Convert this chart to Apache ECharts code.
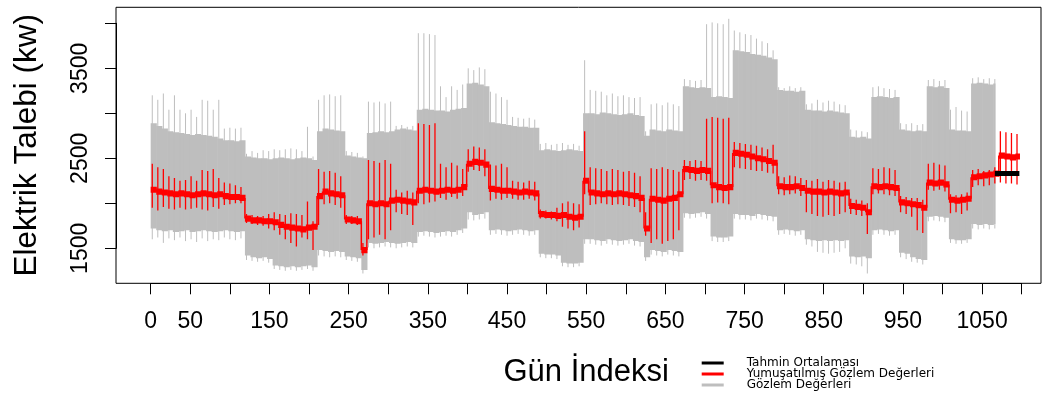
<!DOCTYPE html>
<html>
<head>
<meta charset="utf-8">
<script src="https://cdn.jsdelivr.net/npm/echarts@6/dist/echarts.min.js"></script>
<style>
html,body{margin:0;padding:0;background:#fff;}
#c{width:1046px;height:414px;}
</style>
</head>
<body>
<div id="c"></div>
<script>
// ---- data (weekly reading of the plot; week w starts at day 7*w) ----
const WEEK_DAYS = 7;
const GRAY_END = 1066;   // last observed day
const RED_END = 1097;    // last smoothed day

// Gözlem Değerleri: band bottom / band top / spike top / spike bottom per week
const grayLow = [1720,1700,1690,1700,1680,1690,1700,1680,1690,1700,1690,1680,1690,1700,1690,1680,1690,
  1420,1400,1390,1400,1380,1310,1300,1290,1300,1290,1300,1310,
  1290,
  1480,1470,1460,1470,1460,
  1410,1400,1390,
  1260,
  1560,1550,1560,1570,1560,1550,1560,1570,1560,
  1680,1690,1680,1670,1680,1690,1680,1700,1720,
  1900,1870,1880,1900,
  1700,1710,1700,1690,1700,1710,1700,1690,1700,
  1440,1430,1430,1420,1340,1330,1330,1340,
  1600,
  1600,1590,1580,1600,1590,1580,1590,1600,1580,1570,
  1400,
  1480,1470,1460,1480,1470,1460,
  1890,1880,1890,1900,1880,
  1630,1620,1620,1630,
  1880,1870,1870,1860,1880,1870,1860,1850,
  1700,1710,1700,1690,1700,
  1600,1590,1580,1590,1580,1590,1580,1590,
  1410,1400,1410,1390,
  1700,1710,1700,1690,1700,
  1450,1440,1400,1380,1370,
  1850,1860,1850,1840,
  1600,1590,1590,1600,
  1770,1760,1770,1760,1770];
const grayHigh = [2890,2860,2830,2800,2790,2780,2770,2760,2770,2760,2750,2740,2720,2700,2700,2690,2700,
  2520,2510,2500,2500,2490,2500,2510,2500,2490,2500,2510,2500,
  2480,
  2800,2830,2820,2810,2800,
  2530,2520,2510,
  2500,
  2780,2790,2800,2790,2800,2820,2830,2820,2810,
  3040,3050,3040,3030,3030,3020,3040,3050,3060,
  3330,3340,3320,3300,
  2900,2890,2880,2870,2860,2850,2850,2840,2840,
  2590,2600,2590,2580,2590,2600,2590,2580,
  3000,
  3000,2990,3010,3000,2990,2980,2990,3000,2980,2970,
  2750,
  2820,2810,2800,2820,2810,2800,
  3300,3290,3280,3290,3280,
  3180,3190,3180,3170,
  3700,3690,3680,3660,3650,3640,3620,3600,
  3260,3250,3250,3240,3250,
  3040,3030,3030,3020,3030,3020,3010,3000,
  2740,2730,2740,2720,
  3180,3190,3180,3170,3180,
  2820,2810,2800,2810,2800,
  3300,3290,3300,3280,
  2820,2810,2810,2800,
  3330,3340,3330,3320,3330];
const grayPeak = [3200,3150,3220,3040,3200,3040,3000,3040,2960,3150,3140,3040,3150,2830,2840,2830,2840,
  2550,2580,2560,2590,2580,2600,2590,2600,2610,2600,2580,2850,
  2520,
  3150,3200,3210,3190,3200,
  2580,2570,2560,
  2520,
  3130,3120,3130,3110,3130,2860,2870,2850,2860,
  3890,3890,3880,3870,3300,3180,3300,3260,3320,
  3500,3480,3510,3490,
  3240,3220,3180,3150,2960,2950,2940,2950,2930,
  2660,2670,2650,2660,2670,2650,2660,2640,
  3590,
  3260,3250,3240,3200,3220,3190,3200,3180,3170,3180,
  2800,
  3100,3110,3090,3120,3100,3080,
  3380,3370,3360,3370,3990,
  4010,4000,3990,4050,
  3920,3900,3880,3870,3830,3800,3780,3700,
  3290,3280,3300,3280,3290,
  3100,3110,3150,3120,3140,3130,3100,3090,
  2820,2810,2800,2790,
  3290,3300,3280,3270,3260,
  2890,2880,2890,2870,2880,
  3370,3380,3360,3370,
  3040,3070,3030,3020,
  3390,3400,3380,3390,3380];
const grayDip = [1600,1620,1560,1610,1590,1620,1580,1600,1570,1610,1580,1600,1590,1620,1600,1590,1610,
  1370,1360,1350,1360,1340,1270,1260,1250,1260,1250,1260,1270,
  1250,
  1420,1410,1400,1410,1400,
  1370,1360,1350,
  1220,
  1510,1500,1510,1520,1510,1500,1510,1520,1510,
  1630,1640,1630,1620,1630,1640,1630,1650,1670,
  1820,1810,1820,1830,
  1650,1660,1650,1640,1650,1660,1650,1640,1650,
  1400,1390,1390,1380,1300,1290,1290,1300,
  1550,
  1550,1540,1530,1550,1540,1530,1540,1550,1530,1520,
  1360,
  1430,1420,1410,1430,1420,1410,
  1840,1830,1840,1850,1830,
  1580,1570,1570,1580,
  1830,1820,1820,1810,1830,1820,1810,1800,
  1650,1660,1650,1640,1650,
  1540,1520,1460,1450,1440,1450,1460,1500,
  1330,1320,1300,1220,
  1650,1660,1650,1640,1650,
  1400,1380,1350,1340,1320,
  1800,1810,1800,1790,
  1560,1550,1550,1560,
  1720,1710,1720,1710,1720];

// Yumuşatılmış Gözlem Değerleri: weekly level / spike top / spike bottom
const redMid = [2150,2130,2120,2110,2100,2110,2100,2090,2100,2110,2100,2090,2100,2080,2070,2070,2060,
  1830,1810,1810,1800,1800,1790,1760,1740,1730,1720,1710,1730,
  1740,
  2080,2130,2110,2100,2090,
  1820,1810,1800,
  1480,
  2000,1990,2000,1990,2030,2040,2030,2020,2010,
  2140,2150,2140,2130,2140,2150,2140,2150,2180,
  2440,2460,2450,2430,
  2160,2150,2140,2140,2130,2120,2130,2120,2110,
  1880,1870,1870,1860,1870,1850,1840,1850,
  2250,
  2120,2110,2100,2110,2100,2110,2100,2090,2080,2060,
  1720,
  2050,2040,2030,2050,2060,2100,
  2380,2370,2360,2370,2360,
  2200,2180,2170,2180,
  2560,2550,2540,2520,2500,2490,2470,2450,
  2190,2180,2180,2190,2170,
  2140,2130,2130,2120,2130,2120,2110,2120,
  1970,1960,1950,1900,
  2190,2180,2190,2180,2170,
  2010,2000,1990,1980,1950,
  2230,2220,2230,2210,
  2040,2030,2040,2050,
  2290,2300,2310,2320,2330,
  2530,2520,2510,2520];
const redUp = [2440,2400,2380,2300,2280,2250,2260,2300,2250,2370,2360,2380,2280,2230,2220,2200,2180,
  1880,1870,1860,1860,1880,1900,1880,1870,1890,1880,1870,2020,
  1800,
  2380,2350,2360,2340,2300,
  1870,1860,1860,
  1560,
  2480,2470,2450,2480,2440,2150,2120,2140,2120,
  2890,2880,2870,2890,2440,2400,2450,2420,2380,
  2600,2630,2620,2600,
  2430,2420,2440,2400,2250,2240,2230,2250,2240,
  1930,1920,1910,1950,2000,2020,2000,1990,
  2800,
  2400,2390,2380,2360,2380,2370,2350,2360,2340,2300,
  1900,
  2390,2380,2400,2380,2370,2350,
  2480,2470,2480,2470,2940,
  2960,2950,2940,2950,
  2680,2670,2660,2650,2640,2620,2600,2650,
  2300,2290,2310,2300,2280,
  2260,2250,2270,2240,2260,2250,2230,2240,
  2050,2040,2030,2000,
  2390,2380,2400,2390,2370,
  2080,2070,2060,2060,2040,
  2440,2450,2430,2420,
  2100,2090,2100,2120,
  2370,2380,2360,2370,2400,
  2800,2790,2780,2770];
const redDown = [1950,1920,1960,1940,1930,1950,1930,1940,1950,1930,1920,1960,1940,1980,1990,2000,2000,
  1780,1770,1760,1750,1720,1700,1650,1600,1560,1520,1620,1600,
  1480,
  1760,1990,2000,1980,1950,
  1770,1770,1760,
  1420,
  1600,1620,1650,1600,1700,1900,1880,1870,1760,
  2000,1990,2010,2020,2060,2040,2070,2050,2080,
  2350,2370,2360,2300,
  2030,2050,2040,2060,2050,2040,2040,2050,2030,
  1830,1830,1820,1800,1740,1720,1700,1730,
  2100,
  1980,1990,2000,1990,1980,1990,1980,1970,1960,1900,
  1640,
  1560,1600,1550,1580,1600,1700,
  2260,2270,2250,2260,2250,
  2000,2010,2000,1990,
  2400,2390,2380,2370,2360,2360,2340,2330,
  2100,2090,2100,2110,2080,
  1900,1880,1860,1850,1870,1860,1880,1900,
  1880,1870,1860,1660,
  2100,2110,2100,2090,2080,
  1900,1880,1850,1700,1670,
  2150,2140,2150,2130,
  1890,1900,1880,1920,
  2180,2200,2190,2200,2220,
  2230,2220,2220,2210];

// Tahmin Ortalaması
const forecastDays = [1066, 1097];
const forecastMean = [2330, 2330];

// axis ticks
const xTickLabels = [0, 50, 150, 250, 350, 450, 550, 650, 750, 850, 950, 1050];
const yTickLabels = [1500, 2500, 3500];

// ---- styles ----
const GRAY = '#bebebe';
const RED = '#ff0000';
const RED_HALF = 34;
const SPIKE_OFFSET = 2;
const FONT = "'Liberation Sans', Arial, sans-serif";

const grayData = grayHigh.map((v, i) => [i * WEEK_DAYS, grayLow[i], v, grayPeak[i], grayDip[i]]);
const redData = redMid.map((v, i) => [i * WEEK_DAYS, v, redUp[i], redDown[i]]);
const forecastData = forecastDays.map((d, i) => [d, forecastMean[i]]);

function grayItem(params, api) {
  const x0 = api.value(0);
  const x1 = Math.min(x0 + WEEK_DAYS, GRAY_END);
  const tl = api.coord([x0, api.value(2)]);
  const br = api.coord([x1, api.value(1)]);
  const s0 = api.coord([x0 + SPIKE_OFFSET, api.value(4)]);
  const s1 = api.coord([x0 + SPIKE_OFFSET, api.value(3)]);
  return {
    type: 'group',
    children: [
      { type: 'rect', shape: { x: tl[0], y: tl[1], width: br[0] - tl[0] + 0.6, height: br[1] - tl[1] }, style: { fill: GRAY } },
      { type: 'line', shape: { x1: s0[0], y1: s0[1], x2: s1[0], y2: s1[1] }, style: { stroke: GRAY, lineWidth: 1 } }
    ]
  };
}

function redItem(params, api) {
  const i = params.dataIndex;
  const x0 = api.value(0);
  const x1 = Math.min(x0 + WEEK_DAYS, RED_END);
  const mid = api.value(1);
  const tl = api.coord([x0, mid + RED_HALF]);
  const br = api.coord([x1, mid - RED_HALF]);
  const s0 = api.coord([x0 + SPIKE_OFFSET, api.value(3)]);
  const s1 = api.coord([x0 + SPIKE_OFFSET, api.value(2)]);
  const children = [
    { type: 'rect', shape: { x: tl[0], y: tl[1], width: br[0] - tl[0] + 0.6, height: br[1] - tl[1] }, style: { fill: RED } },
    { type: 'line', shape: { x1: s0[0], y1: s0[1], x2: s1[0], y2: s1[1] }, style: { stroke: RED, lineWidth: 1.3 } }
  ];
  if (i > 0) {
    const c0 = api.coord([x0, redMid[i - 1]]);
    const c1 = api.coord([x0, mid]);
    children.push({ type: 'line', shape: { x1: c0[0], y1: c0[1], x2: c1[0], y2: c1[1] }, style: { stroke: RED, lineWidth: 1.5 } });
  }
  return { type: 'group', children };
}

const chart = echarts.init(document.getElementById('c'), null, { renderer: 'canvas' });
chart.setOption({
  animation: false,
  backgroundColor: '#ffffff',
  grid: [
    { left: 116, right: 5, top: 7.3, bottom: 130.7, show: true, borderColor: '#000', borderWidth: 1, backgroundColor: 'transparent' },
    { left: 150.7, right: 24.3, top: 23.3, bottom: 165.7 }
  ],
  xAxis: [
    { gridIndex: 0, type: 'value', min: -43.8, max: 1124.3, show: false },
    {
      gridIndex: 1, type: 'value', min: 0, max: 1100, interval: 50, position: 'bottom', offset: 35,
      axisLine: { show: true, onZero: false, lineStyle: { color: '#000', width: 1 } },
      axisTick: { show: true, length: 11, lineStyle: { color: '#000', width: 1 } },
      axisLabel: { show: true, margin: 27, fontSize: 23, color: '#000', fontFamily: FONT,
        formatter: v => (xTickLabels.indexOf(v) >= 0 ? String(v) : '') },
      splitLine: { show: false },
      name: 'Gün İndeksi', nameLocation: 'middle', nameGap: 74,
      nameTextStyle: { fontSize: 31, color: '#000', fontFamily: FONT }
    }
  ],
  yAxis: [
    {
      gridIndex: 0, type: 'value', min: 1111, max: 4178,
      axisLine: { show: false }, axisTick: { show: false }, axisLabel: { show: false }, splitLine: { show: false },
      name: 'Elektrik Talebi (kw)', nameLocation: 'middle', nameGap: 73,
      nameTextStyle: { fontSize: 31.5, color: '#000', fontFamily: FONT }
    },
    {
      gridIndex: 1, type: 'value', min: 1500, max: 4000, interval: 500, position: 'left', offset: 34.7,
      axisLine: { show: true, onZero: false, lineStyle: { color: '#000', width: 1 } },
      axisTick: { show: true, length: 11, lineStyle: { color: '#000', width: 1 } },
      axisLabel: { show: true, rotate: 90, margin: 24, fontSize: 23, color: '#000', fontFamily: FONT,
        formatter: v => (yTickLabels.indexOf(v) >= 0 ? String(v) : '') },
      splitLine: { show: false }
    }
  ],
  legend: {
    orient: 'vertical', left: 701.7, top: 357, padding: 0, itemWidth: 22, itemHeight: 3, itemGap: -1,
    selectedMode: false,
    textStyle: { fontSize: 12, color: '#000', fontFamily: "'DejaVu Sans', sans-serif", padding: [0, 0, 0, 18] },
    data: [
      { name: 'Tahmin Ortalaması', icon: 'rect', itemStyle: { color: '#000' } },
      { name: 'Yumuşatılmış Gözlem Değerleri', icon: 'rect', itemStyle: { color: RED } },
      { name: 'Gözlem Değerleri', icon: 'rect', itemStyle: { color: GRAY } }
    ]
  },
  series: [
    {
      name: 'Gözlem Değerleri', type: 'custom', xAxisIndex: 0, yAxisIndex: 0,
      dimensions: ['day', 'low', 'high', 'peak', 'dip'], encode: { x: 0, y: [1, 2, 3, 4] },
      itemStyle: { color: GRAY }, renderItem: grayItem, data: grayData, clip: true, silent: true
    },
    {
      name: 'Yumuşatılmış Gözlem Değerleri', type: 'custom', xAxisIndex: 0, yAxisIndex: 0,
      dimensions: ['day', 'mid', 'up', 'down'], encode: { x: 0, y: [1, 2, 3] },
      itemStyle: { color: RED }, renderItem: redItem, data: redData, clip: true, silent: true
    },
    {
      name: 'Tahmin Ortalaması', type: 'line', xAxisIndex: 0, yAxisIndex: 0,
      data: forecastData, symbol: 'none', itemStyle: { color: '#000' },
      lineStyle: { color: '#000', width: 5 }, silent: true
    }
  ]
});
</script>
</body>
</html>
